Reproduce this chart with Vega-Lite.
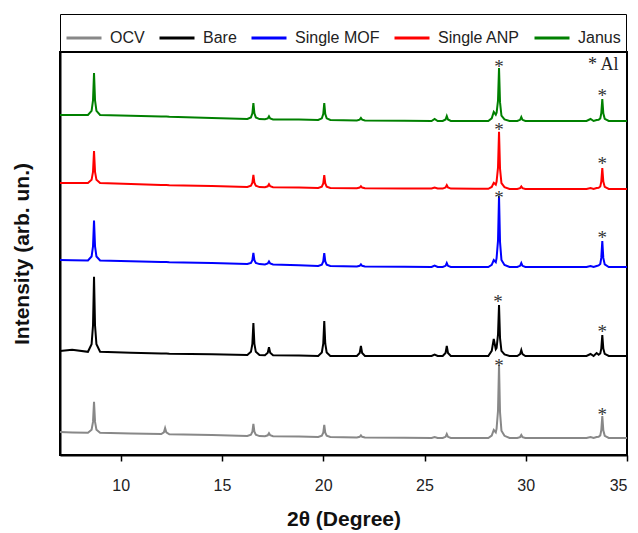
{
  "$schema": "https://vega.github.io/schema/vega-lite/v6.json",
  "width": 567,
  "height": 403,
  "padding": {"top": 13, "left": 11, "right": 5, "bottom": 5},
  "background": "white",
  "view": {"stroke": "black", "strokeWidth": 2},
  "config": {"font": "Liberation Sans"},
  "layer": [
    {
      "data": {"values": [
        {"x":7.0,"OCV":23,"Bare":104,"Single MOF":195,"Single ANP":272,"Janus":340},
        {"x":7.6,"OCV":22.6,"Bare":105.2,"Single MOF":194.8,"Single ANP":272,"Janus":340},
        {"x":8.38,"OCV":22.2,"Bare":103.2,"Single MOF":194.5,"Single ANP":272,"Janus":340},
        {"x":8.56,"OCV":25.3,"Bare":110.7,"Single MOF":198.5,"Single ANP":275.2,"Janus":344.2},
        {"x":8.63,"OCV":33.1,"Bare":129.5,"Single MOF":208.5,"Single ANP":283.2,"Janus":354.7},
        {"x":8.68,"OCV":53.2,"Bare":178.2,"Single MOF":234.5,"Single ANP":304,"Janus":382},
        {"x":8.73,"OCV":33.1,"Bare":129.5,"Single MOF":208.5,"Single ANP":283.2,"Janus":354.7},
        {"x":8.80,"OCV":25.3,"Bare":110.7,"Single MOF":198.5,"Single ANP":275.2,"Janus":344.2},
        {"x":8.98,"OCV":22.2,"Bare":103.2,"Single MOF":194.5,"Single ANP":272,"Janus":340},
        {"x":10.5,"OCV":21.5,"Bare":102.3,"Single MOF":193.7,"Single ANP":271,"Janus":339.2},
        {"x":12.0,"OCV":20.9,"Bare":101.4,"Single MOF":192.9,"Single ANP":269.9,"Janus":338.4},
        {"x":12.13,"OCV":22.7,"Bare":101.4,"Single MOF":192.9,"Single ANP":269.9,"Janus":338.4},
        {"x":12.19,"OCV":26.9,"Bare":101.4,"Single MOF":192.9,"Single ANP":269.9,"Janus":338.4},
        {"x":12.25,"OCV":22.7,"Bare":101.4,"Single MOF":192.9,"Single ANP":269.9,"Janus":338.4},
        {"x":12.4,"OCV":20.7,"Bare":101.2,"Single MOF":192.7,"Single ANP":269.7,"Janus":338.2},
        {"x":14.5,"OCV":20,"Bare":100.7,"Single MOF":192,"Single ANP":269,"Janus":337},
        {"x":16.25,"OCV":19,"Bare":100,"Single MOF":191,"Single ANP":268,"Janus":336},
        {"x":16.43,"OCV":20.2,"Bare":103.2,"Single MOF":192.1,"Single ANP":269.2,"Janus":337.6},
        {"x":16.50,"OCV":23.2,"Bare":111.2,"Single MOF":194.9,"Single ANP":272.2,"Janus":341.6},
        {"x":16.55,"OCV":31,"Bare":132,"Single MOF":202,"Single ANP":280,"Janus":352},
        {"x":16.60,"OCV":23.2,"Bare":111.2,"Single MOF":194.9,"Single ANP":272.2,"Janus":341.6},
        {"x":16.67,"OCV":20.2,"Bare":103.2,"Single MOF":192.1,"Single ANP":269.2,"Janus":337.6},
        {"x":16.85,"OCV":18.9,"Bare":99.9,"Single MOF":190.9,"Single ANP":267.9,"Janus":335.9},
        {"x":17.12,"OCV":18.8,"Bare":99.8,"Single MOF":190.6,"Single ANP":267.8,"Janus":335.7},
        {"x":17.26,"OCV":19.7,"Bare":102.2,"Single MOF":191.5,"Single ANP":268.7,"Janus":336.6},
        {"x":17.32,"OCV":21.8,"Bare":107.8,"Single MOF":193.6,"Single ANP":270.8,"Janus":338.7},
        {"x":17.38,"OCV":19.7,"Bare":102.2,"Single MOF":191.5,"Single ANP":268.7,"Janus":336.6},
        {"x":17.52,"OCV":18.7,"Bare":99.7,"Single MOF":190.5,"Single ANP":267.7,"Janus":335.6},
        {"x":18.8,"OCV":18.4,"Bare":99.4,"Single MOF":189.8,"Single ANP":267.4,"Janus":335.4},
        {"x":19.75,"OCV":18,"Bare":99,"Single MOF":189,"Single ANP":267,"Janus":335},
        {"x":19.93,"OCV":19.2,"Bare":102.5,"Single MOF":190.3,"Single ANP":268.3,"Janus":336.7},
        {"x":20.00,"OCV":22.2,"Bare":111.3,"Single MOF":193.6,"Single ANP":271.6,"Janus":341},
        {"x":20.05,"OCV":30,"Bare":134,"Single MOF":202,"Single ANP":280,"Janus":352},
        {"x":20.10,"OCV":22.2,"Bare":111.3,"Single MOF":193.6,"Single ANP":271.6,"Janus":341},
        {"x":20.17,"OCV":19.2,"Bare":102.5,"Single MOF":190.3,"Single ANP":268.3,"Janus":336.7},
        {"x":20.35,"OCV":18,"Bare":99,"Single MOF":189,"Single ANP":267,"Janus":335},
        {"x":21.66,"OCV":17.6,"Bare":99,"Single MOF":188.6,"Single ANP":266.8,"Janus":334.6},
        {"x":21.80,"OCV":18.2,"Bare":102,"Single MOF":189.2,"Single ANP":267.4,"Janus":335.4},
        {"x":21.86,"OCV":19.6,"Bare":109,"Single MOF":190.6,"Single ANP":268.8,"Janus":337.1},
        {"x":21.92,"OCV":18.2,"Bare":102,"Single MOF":189.2,"Single ANP":267.4,"Janus":335.4},
        {"x":22.06,"OCV":17.6,"Bare":99,"Single MOF":188.6,"Single ANP":266.8,"Janus":334.6},
        {"x":24.0,"OCV":17.2,"Bare":99,"Single MOF":188.2,"Single ANP":266.6,"Janus":334.2},
        {"x":25.35,"OCV":17,"Bare":99,"Single MOF":188,"Single ANP":266.5,"Janus":334},
        {"x":25.5,"OCV":18,"Bare":100.5,"Single MOF":189.5,"Single ANP":267.5,"Janus":336},
        {"x":25.65,"OCV":17,"Bare":99,"Single MOF":188,"Single ANP":266.5,"Janus":334},
        {"x":25.9,"OCV":17,"Bare":99,"Single MOF":188,"Single ANP":266.4,"Janus":334},
        {"x":26.04,"OCV":18.2,"Bare":102,"Single MOF":189.2,"Single ANP":267.5,"Janus":335.5},
        {"x":26.10,"OCV":21,"Bare":109,"Single MOF":192,"Single ANP":269.9,"Janus":339},
        {"x":26.16,"OCV":18.2,"Bare":102,"Single MOF":189.2,"Single ANP":267.5,"Janus":335.5},
        {"x":26.3,"OCV":17,"Bare":99,"Single MOF":188,"Single ANP":266.4,"Janus":334},
        {"x":27.5,"OCV":17,"Bare":99,"Single MOF":188,"Single ANP":266.3,"Janus":334},
        {"x":28.15,"OCV":17,"Bare":99,"Single MOF":188,"Single ANP":266.2,"Janus":334},
        {"x":28.32,"OCV":19.4,"Bare":104.1,"Single MOF":190.1,"Single ANP":268,"Janus":336.7},
        {"x":28.42,"OCV":25,"Bare":116,"Single MOF":195,"Single ANP":272.2,"Janus":343},
        {"x":28.52,"OCV":22.6,"Bare":105.8,"Single MOF":192.9,"Single ANP":270.4,"Janus":340.3},
        {"x":28.56,"OCV":26.4,"Bare":107,"Single MOF":196.9,"Single ANP":273.5,"Janus":342.2},
        {"x":28.63,"OCV":44.2,"Bare":120.3,"Single MOF":214.3,"Single ANP":287.4,"Janus":354.4},
        {"x":28.68,"OCV":90,"Bare":150,"Single MOF":259,"Single ANP":323.2,"Janus":387},
        {"x":28.73,"OCV":42.6,"Bare":116.9,"Single MOF":212.9,"Single ANP":286.2,"Janus":352.6},
        {"x":28.80,"OCV":24.3,"Bare":104.1,"Single MOF":195.1,"Single ANP":271.9,"Janus":339.3},
        {"x":28.95,"OCV":19.2,"Bare":100.5,"Single MOF":190.1,"Single ANP":267.9,"Janus":335.6},
        {"x":29.2,"OCV":17,"Bare":99,"Single MOF":188,"Single ANP":266.1,"Janus":334},
        {"x":29.58,"OCV":17,"Bare":99,"Single MOF":188,"Single ANP":266.1,"Janus":334},
        {"x":29.72,"OCV":17.9,"Bare":100.8,"Single MOF":189.2,"Single ANP":266.9,"Janus":335.2},
        {"x":29.78,"OCV":20,"Bare":105,"Single MOF":192,"Single ANP":268.6,"Janus":338},
        {"x":29.84,"OCV":17.9,"Bare":100.8,"Single MOF":189.2,"Single ANP":266.9,"Janus":335.2},
        {"x":29.98,"OCV":17,"Bare":99,"Single MOF":188,"Single ANP":266.1,"Janus":334},
        {"x":31.5,"OCV":17,"Bare":99,"Single MOF":188,"Single ANP":266,"Janus":334},
        {"x":33.0,"OCV":17,"Bare":99,"Single MOF":188,"Single ANP":266,"Janus":334},
        {"x":33.2,"OCV":18,"Bare":101,"Single MOF":189,"Single ANP":267,"Janus":336},
        {"x":33.35,"OCV":17,"Bare":99,"Single MOF":188,"Single ANP":266,"Janus":334},
        {"x":33.5,"OCV":18,"Bare":102,"Single MOF":189,"Single ANP":267,"Janus":335},
        {"x":33.6,"OCV":18.3,"Bare":100.3,"Single MOF":189.6,"Single ANP":267.3,"Janus":335.3},
        {"x":33.68,"OCV":19.6,"Bare":101.5,"Single MOF":191.1,"Single ANP":268.5,"Janus":336.6},
        {"x":33.73,"OCV":24.7,"Bare":106.4,"Single MOF":197.1,"Single ANP":273.4,"Janus":341.7},
        {"x":33.78,"OCV":39,"Bare":120,"Single MOF":214,"Single ANP":287,"Janus":356},
        {"x":33.83,"OCV":24.7,"Bare":106.4,"Single MOF":197.1,"Single ANP":273.4,"Janus":341.7},
        {"x":33.9,"OCV":19.2,"Bare":101.1,"Single MOF":190.6,"Single ANP":268.1,"Janus":336.2},
        {"x":34.1,"OCV":17,"Bare":99,"Single MOF":188,"Single ANP":266,"Janus":334},
        {"x":35.0,"OCV":17,"Bare":99,"Single MOF":188,"Single ANP":266,"Janus":334}
      ]},
      "transform": [{"fold": ["OCV","Bare","Single MOF","Single ANP","Janus"], "as": ["series","v"]}],
      "mark": {"type": "line", "strokeWidth": 2, "interpolate": "linear"},
      "encoding": {
        "x": {"field": "x", "type": "quantitative",
          "scale": {"domain": [7, 35], "nice": false, "zero": false},
          "axis": {"title": "2θ (Degree)", "values": [10,15,20,25,30,35], "grid": false,
            "domainColor": "black", "domainWidth": 2, "tickColor": "black", "tickWidth": 1.5, "tickSize": 6,
            "labelFont": "Liberation Sans", "labelFontSize": 16, "labelColor": "#222", "labelPadding": 16,
            "titleFont": "Liberation Sans", "titleFontSize": 21, "titleFontWeight": "bold", "titleColor": "#111", "titlePadding": 15}},
        "y": {"field": "v", "type": "quantitative",
          "scale": {"domain": [0, 403], "nice": false, "zero": false},
          "axis": {"title": "Intensity (arb. un.)", "labels": false, "ticks": false, "grid": false,
            "domainColor": "black", "domainWidth": 2,
            "titleFont": "Liberation Sans", "titleFontSize": 21, "titleFontWeight": "bold", "titleColor": "#111", "titlePadding": 28}},
        "color": {"field": "series", "type": "nominal",
          "scale": {"domain": ["OCV","Bare","Single MOF","Single ANP","Janus"], "range": ["#888888","#000000","#0000ff","#ff0000","#008000"]},
          "legend": {"orient": "top", "direction": "horizontal", "title": null, "symbolType": "stroke",
            "symbolSize": 1225, "symbolStrokeWidth": 3, "labelFont": "Liberation Sans", "labelFontSize": 16,
            "labelColor": "#222", "strokeColor": "black", "fillColor": "white", "padding": 5,
            "columnPadding": 8, "labelOffset": 7, "offset": 1}},
        "order": {"field": "x", "type": "quantitative"}
      }
    },
    {
      "data": {"values": [
        {"x":28.68,"y":393},{"x":33.78,"y":364},
        {"x":28.68,"y":330},{"x":33.78,"y":296},
        {"x":28.68,"y":262},{"x":33.78,"y":222},
        {"x":28.63,"y":158},{"x":33.78,"y":128},
        {"x":28.68,"y":94},{"x":33.78,"y":45}
      ]},
      "mark": {"type": "text", "text": "*", "font": "Liberation Serif", "fontSize": 19, "color": "#333", "baseline": "middle", "dy": 5},
      "encoding": {
        "x": {"field": "x", "type": "quantitative"},
        "y": {"field": "y", "type": "quantitative"}
      }
    },
    {
      "data": {"values": [{"x": 33.07, "y": 390, "label": "* Al"}]},
      "mark": {"type": "text", "font": "Liberation Serif", "fontSize": 18, "color": "#222", "align": "left", "baseline": "middle"},
      "encoding": {
        "x": {"field": "x", "type": "quantitative"},
        "y": {"field": "y", "type": "quantitative"},
        "text": {"field": "label"}
      }
    }
  ]
}
